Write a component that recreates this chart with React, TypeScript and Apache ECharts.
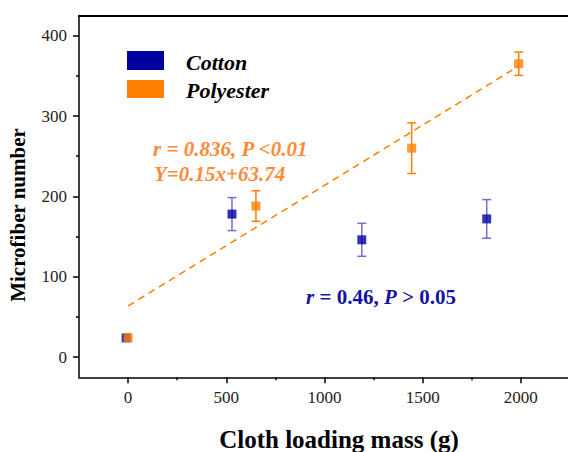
import React, { useEffect, useRef } from "react";
import * as echarts from "echarts";

const FONT = "Liberation Serif";

const cottonX = [-10, 529, 1190, 1826];
const cottonY = [24, 178, 146, 172];
const cottonErr = [0, 20.5, 20.5, 24];

const polyX = [0, 651, 1444, 1989];
const polyY = [24, 188, 260, 365];
const polyErr = [0, 19, 31.5, 14.5];

const fitX = [0, 1990];
const fitY = [63.74, 362.2];

const xMajor = [0, 500, 1000, 1500, 2000];
const xMinor = [250, 750, 1250, 1750];
const yMajor = [0, 100, 200, 300, 400];
const yMinor = [50, 150, 250, 350];

const BLUE = "#0000A0";
const BLUE_ERR = "#7070CC";
const ORANGE = "#FF8000";
const ORANGE_TXT = "#FF8A3A";
const BLUE_TXT = "#1414A0";

const X_MIN = -250;
const X_MAX = 2240;
const Y_MIN = -25;
const Y_MAX = 425;

function errData(xs: number[], ys: number[], es: number[]) {
  return xs
    .map((x, i) => [x, ys[i] - es[i], ys[i] + es[i]])
    .filter((_, i) => es[i] > 0);
}

function errSeries(data: number[][], color: string) {
  return {
    type: "custom",
    z: 1,
    data,
    encode: { x: 0, y: [1, 2] },
    renderItem: (params: any, api: any) => {
      const x = api.value(0);
      const lo = api.value(1);
      const hi = api.value(2);
      const t = api.coord([x, hi]);
      const b = api.coord([x, lo]);
      const w = 4.5;
      const style = { stroke: color, lineWidth: 1.5 };
      return {
        type: "group",
        children: [
          { type: "line", shape: { x1: t[0], y1: t[1], x2: b[0], y2: b[1] }, style },
          { type: "line", shape: { x1: t[0] - w, y1: t[1], x2: t[0] + w, y2: t[1] }, style },
          { type: "line", shape: { x1: b[0] - w, y1: b[1], x2: b[0] + w, y2: b[1] }, style },
        ],
      };
    },
  };
}

function txt(x: number, y: number, text: string, size: number, color: string, italic: boolean, extra: any = {}) {
  return {
    type: "text",
    x,
    y,
    ...extra,
    style: {
      text,
      fontFamily: FONT,
      fontStyle: italic ? "italic" : "normal",
      fontWeight: "bold",
      fontSize: size,
      fill: color,
      verticalAlign: "middle",
      ...(extra.style || {}),
    },
  };
}

export default function App() {
  const ref = useRef<HTMLDivElement>(null);
  useEffect(() => {
    if (!ref.current) return;
    const chart = echarts.init(ref.current, undefined, { renderer: "svg" });
    const axisLineStyle = { color: "#000", width: 1.5 };
    const labelStyle = {
      fontFamily: FONT,
      fontSize: 17,
      color: "#222",
      formatter: (v: number) => String(v),
    };
    chart.setOption({
      animation: false,
      backgroundColor: "#fff",
      grid: { left: 79, top: 15.5, right: 0, bottom: 74.7 },
      xAxis: [
        {
          type: "value",
          min: X_MIN,
          max: X_MAX,
          position: "bottom",
          axisLine: { onZero: false, lineStyle: axisLineStyle },
          axisTick: { customValues: xMajor, length: 6, lineStyle: axisLineStyle },
          axisLabel: { customValues: xMajor, margin: 12, ...labelStyle },
          splitLine: { show: false },
        },
        {
          type: "value",
          min: X_MIN,
          max: X_MAX,
          position: "bottom",
          axisLine: { show: false, onZero: false },
          axisTick: { customValues: xMinor, length: 3, lineStyle: axisLineStyle },
          axisLabel: { show: false },
          splitLine: { show: false },
        },
        {
          type: "value",
          min: X_MIN,
          max: X_MAX,
          position: "top",
          axisLine: { onZero: false, lineStyle: { color: "#000", width: 2 } },
          axisTick: { show: false },
          axisLabel: { show: false },
          splitLine: { show: false },
        },
      ],
      yAxis: [
        {
          type: "value",
          min: Y_MIN,
          max: Y_MAX,
          position: "left",
          axisLine: { show: true, onZero: false, lineStyle: axisLineStyle },
          axisTick: { show: true, customValues: yMajor, length: 6, lineStyle: axisLineStyle },
          axisLabel: { customValues: yMajor, margin: 12, ...labelStyle },
          splitLine: { show: false },
        },
        {
          type: "value",
          min: Y_MIN,
          max: Y_MAX,
          position: "left",
          axisLine: { show: false, onZero: false },
          axisTick: { show: true, customValues: yMinor, length: 3, lineStyle: axisLineStyle },
          axisLabel: { show: false },
          splitLine: { show: false },
        },
      ],
      series: [
        {
          type: "line",
          data: fitX.map((x, i) => [x, fitY[i]]),
          symbol: "none",
          lineStyle: { color: ORANGE, width: 1.5, type: [7, 5] },
          z: 0,
        },
        errSeries(errData(cottonX, cottonY, cottonErr), BLUE_ERR),
        errSeries(errData(polyX, polyY, polyErr), ORANGE),
        {
          type: "scatter",
          name: "Cotton",
          symbol: "rect",
          symbolSize: 9,
          itemStyle: { color: BLUE },
          data: cottonX.map((x, i) => [x, cottonY[i]]),
          z: 3,
        },
        {
          type: "scatter",
          name: "Polyester",
          symbol: "rect",
          symbolSize: 9,
          itemStyle: { color: ORANGE },
          data: polyX.map((x, i) => [x, polyY[i]]),
          z: 4,
        },
      ],
      graphic: [
        { type: "rect", shape: { x: 127, y: 51, width: 37, height: 19 }, style: { fill: BLUE } },
        { type: "rect", shape: { x: 127, y: 80, width: 37, height: 18 }, style: { fill: ORANGE } },
        txt(186, 62, "Cotton", 22, "#000", true),
        txt(186, 90, "Polyester", 22, "#000", true),
        txt(153, 149, "r = 0.836, P <0.01", 21, ORANGE_TXT, true),
        txt(154, 174, "Y=0.15x+63.74", 21, ORANGE_TXT, true),
        {
          type: "text",
          x: 306,
          y: 297,
          style: {
            text: "{i|r}{n| = 0.46, }{i|P}{n| > 0.05}",
            fill: BLUE_TXT,
            verticalAlign: "middle",
            rich: {
              i: { fontFamily: FONT, fontStyle: "italic", fontWeight: "bold", fontSize: 21, fill: BLUE_TXT },
              n: { fontFamily: FONT, fontWeight: "bold", fontSize: 21, fill: BLUE_TXT },
            },
          },
        },
        txt(339, 439, "Cloth loading mass (g)", 25, "#000", false, { style: { align: "center" } }),
        txt(18, 215, "Microfiber number", 21, "#000", false, {
          rotation: Math.PI / 2,
          style: { align: "center" },
        }),
      ],
    });
    return () => chart.dispose();
  }, []);
  return (
    <div
      ref={ref}
      style={{ position: "fixed", left: 0, top: 0, width: 568, height: 452 }}
    />
  );
}
